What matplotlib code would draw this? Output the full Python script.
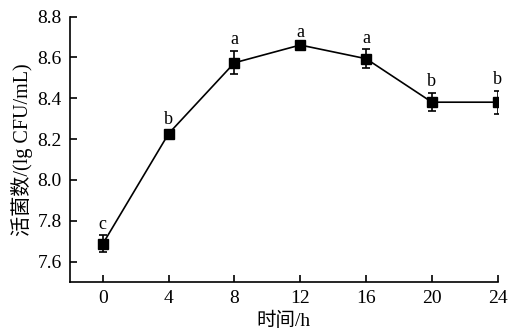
import matplotlib
matplotlib.use("Agg")
import matplotlib.pyplot as plt

hours = [0, 4, 8, 12, 16, 20, 24]
counts = [7.687, 8.227, 8.574, 8.661, 8.594, 8.381, 8.381]
errors = [0.042, 0.015, 0.057, 0.008, 0.046, 0.045, 0.056]
letters = ["c", "b", "a", "a", "a", "b", "b"]
xticks = [0, 4, 8, 12, 16, 20, 24]
yticks = [7.6, 7.8, 8.0, 8.2, 8.4, 8.6, 8.8]

fam = ["Liberation Serif", "Noto Sans CJK SC"]
plt.rcParams["font.family"] = fam

fig = plt.figure(figsize=(5.1, 3.33), dpi=100)
ax = fig.add_axes([0.137, 0.153, 0.839, 0.797])

ax.errorbar(hours, counts, yerr=errors, color="black", marker="s", markersize=6.5,
            linewidth=1.2, elinewidth=1.2, capsize=3, capthick=1.2)

for x, y, e, t in zip(hours, counts, errors, letters):
    ax.annotate(t, (x, y + e), xytext=(0, 2), textcoords="offset points",
                ha="center", va="bottom", fontsize=13)

ax.set_xlim(-2, 24)
ax.set_ylim(7.5, 8.8)
ax.set_xticks(xticks)
ax.set_yticks(yticks)
ax.set_yticklabels([f"{v:.1f}" for v in yticks])
ax.spines["top"].set_visible(False)
ax.spines["right"].set_visible(False)
for s in ("left", "bottom"):
    ax.spines[s].set_linewidth(1.2)
ax.tick_params(direction="in", length=5, width=1.2, labelsize=14, pad=6)

ax.set_xlabel("时间/h", fontsize=14, labelpad=3)
ax.set_ylabel("活菌数/(lg CFU/mL)", fontsize=14.5, labelpad=3)

fig.savefig("out.png", dpi=100)
